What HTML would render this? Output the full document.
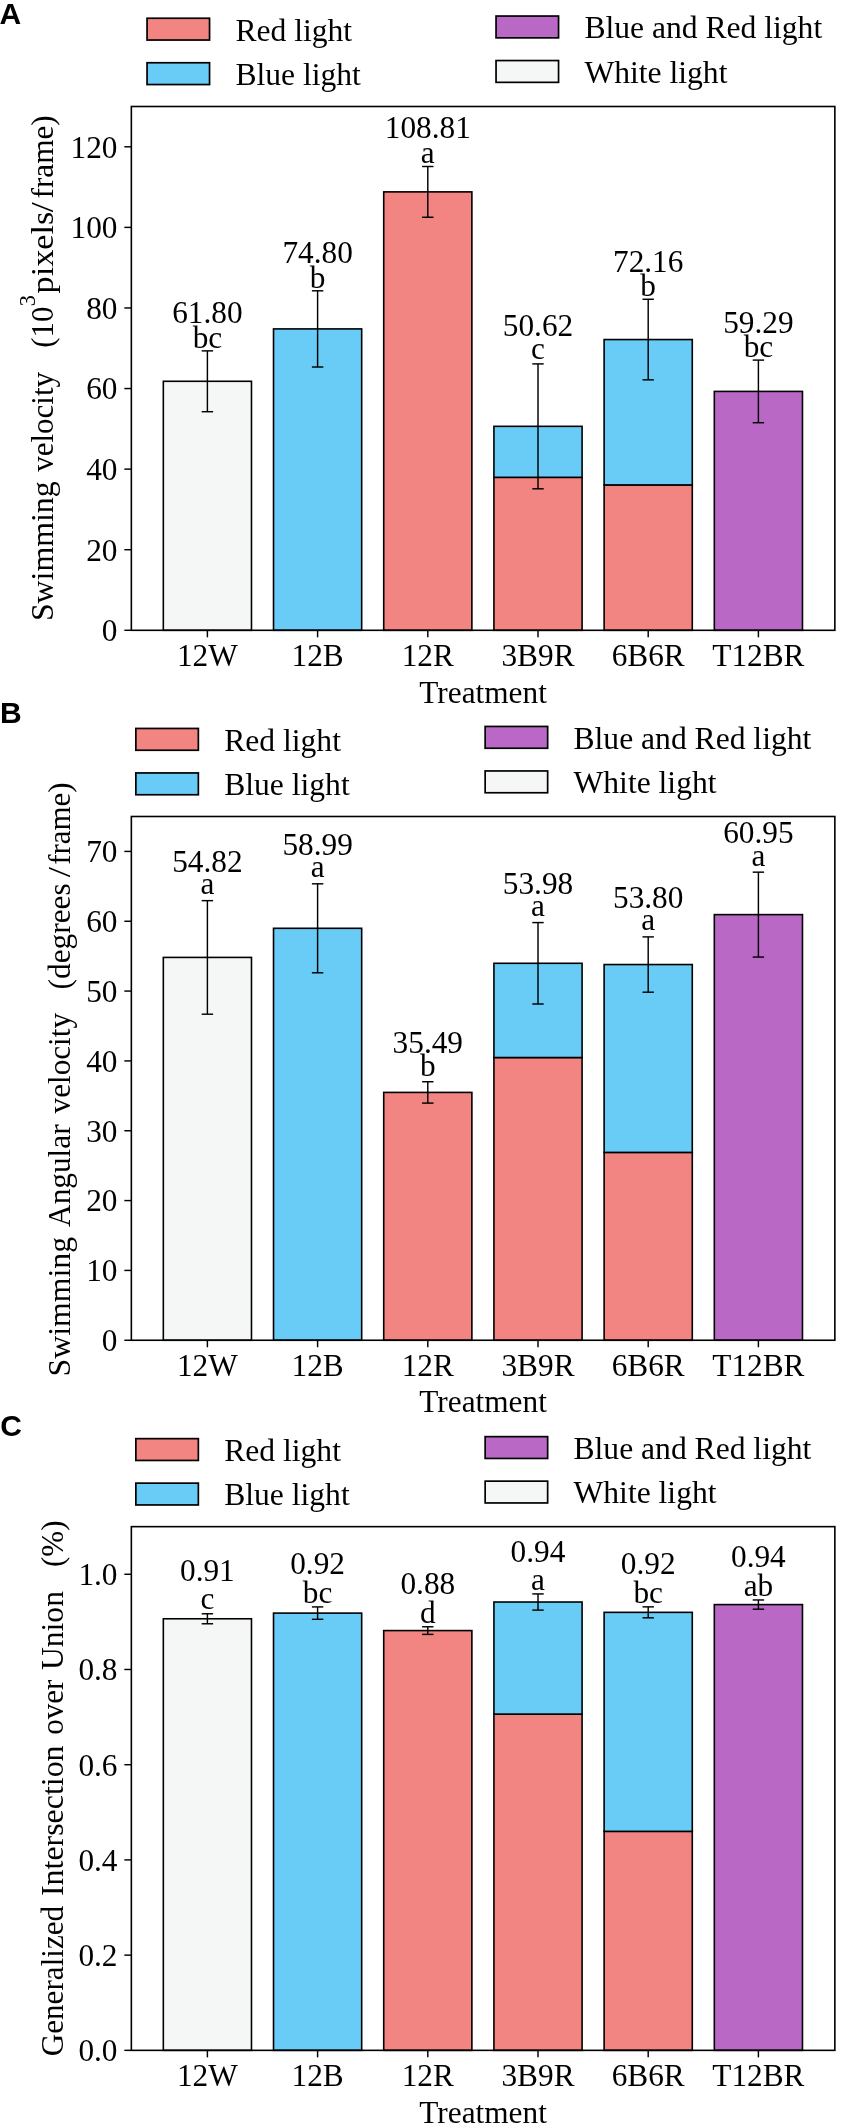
<!DOCTYPE html>
<html><head><meta charset="utf-8"><style>
html,body{margin:0;padding:0;background:#fff;}
svg{display:block;will-change:transform;}
text{font-family:"Liberation Serif",serif;fill:#000;}
text.tag{font-family:"Liberation Sans",sans-serif;font-weight:bold;}
</style></head><body>
<svg width="841" height="2128" viewBox="0 0 841 2128">
<rect width="841" height="2128" fill="#fff"/>
<rect x="163.32" y="381.29" width="88.16" height="249.01" fill="#F5F6F6" stroke="#000" stroke-width="1.6"/>
<rect x="273.52" y="328.91" width="88.16" height="301.39" fill="#69CCF7" stroke="#000" stroke-width="1.6"/>
<rect x="383.72" y="191.88" width="88.16" height="438.42" fill="#F28482" stroke="#000" stroke-width="1.6"/>
<rect x="493.92" y="477.33" width="88.16" height="152.97" fill="#F28482" stroke="#000" stroke-width="1.6"/>
<rect x="493.92" y="426.34" width="88.16" height="50.99" fill="#69CCF7" stroke="#000" stroke-width="1.6"/>
<rect x="604.12" y="484.93" width="88.16" height="145.37" fill="#F28482" stroke="#000" stroke-width="1.6"/>
<rect x="604.12" y="339.55" width="88.16" height="145.37" fill="#69CCF7" stroke="#000" stroke-width="1.6"/>
<rect x="714.32" y="391.41" width="88.16" height="238.89" fill="#B968C6" stroke="#000" stroke-width="1.6"/>
<line x1="207.40" y1="350.87" x2="207.40" y2="411.71" stroke="#000" stroke-width="1.45"/>
<line x1="201.70" y1="350.87" x2="213.10" y2="350.87" stroke="#000" stroke-width="1.45"/>
<line x1="201.70" y1="411.71" x2="213.10" y2="411.71" stroke="#000" stroke-width="1.45"/>
<line x1="317.60" y1="290.80" x2="317.60" y2="367.03" stroke="#000" stroke-width="1.45"/>
<line x1="311.90" y1="290.80" x2="323.30" y2="290.80" stroke="#000" stroke-width="1.45"/>
<line x1="311.90" y1="367.03" x2="323.30" y2="367.03" stroke="#000" stroke-width="1.45"/>
<line x1="427.80" y1="166.50" x2="427.80" y2="217.26" stroke="#000" stroke-width="1.45"/>
<line x1="422.10" y1="166.50" x2="433.50" y2="166.50" stroke="#000" stroke-width="1.45"/>
<line x1="422.10" y1="217.26" x2="433.50" y2="217.26" stroke="#000" stroke-width="1.45"/>
<line x1="538.00" y1="363.89" x2="538.00" y2="488.79" stroke="#000" stroke-width="1.45"/>
<line x1="532.30" y1="363.89" x2="543.70" y2="363.89" stroke="#000" stroke-width="1.45"/>
<line x1="532.30" y1="488.79" x2="543.70" y2="488.79" stroke="#000" stroke-width="1.45"/>
<line x1="648.20" y1="299.26" x2="648.20" y2="379.84" stroke="#000" stroke-width="1.45"/>
<line x1="642.50" y1="299.26" x2="653.90" y2="299.26" stroke="#000" stroke-width="1.45"/>
<line x1="642.50" y1="379.84" x2="653.90" y2="379.84" stroke="#000" stroke-width="1.45"/>
<line x1="758.40" y1="360.10" x2="758.40" y2="422.71" stroke="#000" stroke-width="1.45"/>
<line x1="752.70" y1="360.10" x2="764.10" y2="360.10" stroke="#000" stroke-width="1.45"/>
<line x1="752.70" y1="422.71" x2="764.10" y2="422.71" stroke="#000" stroke-width="1.45"/>
<rect x="131.35" y="106.5" width="703.50" height="523.80" fill="none" stroke="#000" stroke-width="1.6"/>
<line x1="124.35" y1="630.30" x2="131.35" y2="630.30" stroke="#000" stroke-width="1.45"/>
<text x="117.50" y="641.10" font-size="31.3" text-anchor="end">0</text>
<line x1="124.35" y1="549.72" x2="131.35" y2="549.72" stroke="#000" stroke-width="1.45"/>
<text x="117.50" y="560.52" font-size="31.3" text-anchor="end">20</text>
<line x1="124.35" y1="469.13" x2="131.35" y2="469.13" stroke="#000" stroke-width="1.45"/>
<text x="117.50" y="479.93" font-size="31.3" text-anchor="end">40</text>
<line x1="124.35" y1="388.55" x2="131.35" y2="388.55" stroke="#000" stroke-width="1.45"/>
<text x="117.50" y="399.35" font-size="31.3" text-anchor="end">60</text>
<line x1="124.35" y1="307.96" x2="131.35" y2="307.96" stroke="#000" stroke-width="1.45"/>
<text x="117.50" y="318.76" font-size="31.3" text-anchor="end">80</text>
<line x1="124.35" y1="227.38" x2="131.35" y2="227.38" stroke="#000" stroke-width="1.45"/>
<text x="117.50" y="238.18" font-size="31.3" text-anchor="end">100</text>
<line x1="124.35" y1="146.79" x2="131.35" y2="146.79" stroke="#000" stroke-width="1.45"/>
<text x="117.50" y="157.59" font-size="31.3" text-anchor="end">120</text>
<line x1="207.40" y1="630.30" x2="207.40" y2="637.30" stroke="#000" stroke-width="1.45"/>
<text x="207.40" y="666.20" font-size="31.3" text-anchor="middle">12W</text>
<line x1="317.60" y1="630.30" x2="317.60" y2="637.30" stroke="#000" stroke-width="1.45"/>
<text x="317.60" y="666.20" font-size="31.3" text-anchor="middle">12B</text>
<line x1="427.80" y1="630.30" x2="427.80" y2="637.30" stroke="#000" stroke-width="1.45"/>
<text x="427.80" y="666.20" font-size="31.3" text-anchor="middle">12R</text>
<line x1="538.00" y1="630.30" x2="538.00" y2="637.30" stroke="#000" stroke-width="1.45"/>
<text x="538.00" y="666.20" font-size="31.3" text-anchor="middle">3B9R</text>
<line x1="648.20" y1="630.30" x2="648.20" y2="637.30" stroke="#000" stroke-width="1.45"/>
<text x="648.20" y="666.20" font-size="31.3" text-anchor="middle">6B6R</text>
<line x1="758.40" y1="630.30" x2="758.40" y2="637.30" stroke="#000" stroke-width="1.45"/>
<text x="758.40" y="666.20" font-size="31.3" text-anchor="middle">T12BR</text>
<text x="483.10" y="702.50" font-size="31.3" text-anchor="middle">Treatment</text>
<text x="207.40" y="322.60" font-size="31.3" text-anchor="middle">61.80</text>
<text x="207.40" y="347.80" font-size="31.3" text-anchor="middle">bc</text>
<text x="317.60" y="262.60" font-size="31.3" text-anchor="middle">74.80</text>
<text x="317.60" y="287.80" font-size="31.3" text-anchor="middle">b</text>
<text x="427.80" y="138.30" font-size="31.3" text-anchor="middle">108.81</text>
<text x="427.80" y="162.80" font-size="31.3" text-anchor="middle">a</text>
<text x="538.00" y="335.50" font-size="31.3" text-anchor="middle">50.62</text>
<text x="538.00" y="359.20" font-size="31.3" text-anchor="middle">c</text>
<text x="648.20" y="271.50" font-size="31.3" text-anchor="middle">72.16</text>
<text x="648.20" y="295.60" font-size="31.3" text-anchor="middle">b</text>
<text x="758.40" y="332.50" font-size="31.3" text-anchor="middle">59.29</text>
<text x="758.40" y="356.60" font-size="31.3" text-anchor="middle">bc</text>
<rect x="147.05" y="18.25" width="62.50" height="21.80" fill="#F28482" stroke="#000" stroke-width="1.7"/>
<text x="235.40" y="40.60" font-size="31.6" text-anchor="start">Red light</text>
<rect x="147.05" y="62.75" width="62.50" height="21.80" fill="#69CCF7" stroke="#000" stroke-width="1.7"/>
<text x="235.40" y="84.60" font-size="31.6" text-anchor="start">Blue light</text>
<rect x="496.05" y="16.05" width="62.50" height="21.80" fill="#B968C6" stroke="#000" stroke-width="1.7"/>
<text x="584.40" y="38.30" font-size="31.6" text-anchor="start">Blue and Red light</text>
<rect x="496.05" y="60.55" width="62.50" height="21.80" fill="#F5F6F6" stroke="#000" stroke-width="1.7"/>
<text x="584.40" y="82.80" font-size="31.6" text-anchor="start">White light</text>
<text x="-0.5" y="23.60" class="tag" font-size="30">A</text>
<rect x="163.32" y="957.42" width="88.16" height="382.83" fill="#F5F6F6" stroke="#000" stroke-width="1.6"/>
<rect x="273.52" y="928.30" width="88.16" height="411.95" fill="#69CCF7" stroke="#000" stroke-width="1.6"/>
<rect x="383.72" y="1092.41" width="88.16" height="247.84" fill="#F28482" stroke="#000" stroke-width="1.6"/>
<rect x="493.92" y="1057.53" width="88.16" height="282.72" fill="#F28482" stroke="#000" stroke-width="1.6"/>
<rect x="493.92" y="963.29" width="88.16" height="94.24" fill="#69CCF7" stroke="#000" stroke-width="1.6"/>
<rect x="604.12" y="1152.40" width="88.16" height="187.85" fill="#F28482" stroke="#000" stroke-width="1.6"/>
<rect x="604.12" y="964.55" width="88.16" height="187.85" fill="#69CCF7" stroke="#000" stroke-width="1.6"/>
<rect x="714.32" y="914.62" width="88.16" height="425.63" fill="#B968C6" stroke="#000" stroke-width="1.6"/>
<line x1="207.40" y1="900.65" x2="207.40" y2="1014.20" stroke="#000" stroke-width="1.45"/>
<line x1="201.70" y1="900.65" x2="213.10" y2="900.65" stroke="#000" stroke-width="1.45"/>
<line x1="201.70" y1="1014.20" x2="213.10" y2="1014.20" stroke="#000" stroke-width="1.45"/>
<line x1="317.60" y1="883.82" x2="317.60" y2="972.79" stroke="#000" stroke-width="1.45"/>
<line x1="311.90" y1="883.82" x2="323.30" y2="883.82" stroke="#000" stroke-width="1.45"/>
<line x1="311.90" y1="972.79" x2="323.30" y2="972.79" stroke="#000" stroke-width="1.45"/>
<line x1="427.80" y1="1081.73" x2="427.80" y2="1103.10" stroke="#000" stroke-width="1.45"/>
<line x1="422.10" y1="1081.73" x2="433.50" y2="1081.73" stroke="#000" stroke-width="1.45"/>
<line x1="422.10" y1="1103.10" x2="433.50" y2="1103.10" stroke="#000" stroke-width="1.45"/>
<line x1="538.00" y1="922.58" x2="538.00" y2="1004.00" stroke="#000" stroke-width="1.45"/>
<line x1="532.30" y1="922.58" x2="543.70" y2="922.58" stroke="#000" stroke-width="1.45"/>
<line x1="532.30" y1="1004.00" x2="543.70" y2="1004.00" stroke="#000" stroke-width="1.45"/>
<line x1="648.20" y1="936.89" x2="648.20" y2="992.20" stroke="#000" stroke-width="1.45"/>
<line x1="642.50" y1="936.89" x2="653.90" y2="936.89" stroke="#000" stroke-width="1.45"/>
<line x1="642.50" y1="992.20" x2="653.90" y2="992.20" stroke="#000" stroke-width="1.45"/>
<line x1="758.40" y1="872.16" x2="758.40" y2="957.07" stroke="#000" stroke-width="1.45"/>
<line x1="752.70" y1="872.16" x2="764.10" y2="872.16" stroke="#000" stroke-width="1.45"/>
<line x1="752.70" y1="957.07" x2="764.10" y2="957.07" stroke="#000" stroke-width="1.45"/>
<rect x="131.35" y="816.5" width="703.50" height="523.75" fill="none" stroke="#000" stroke-width="1.6"/>
<line x1="124.35" y1="1340.25" x2="131.35" y2="1340.25" stroke="#000" stroke-width="1.45"/>
<text x="117.50" y="1351.05" font-size="31.3" text-anchor="end">0</text>
<line x1="124.35" y1="1270.42" x2="131.35" y2="1270.42" stroke="#000" stroke-width="1.45"/>
<text x="117.50" y="1281.22" font-size="31.3" text-anchor="end">10</text>
<line x1="124.35" y1="1200.58" x2="131.35" y2="1200.58" stroke="#000" stroke-width="1.45"/>
<text x="117.50" y="1211.38" font-size="31.3" text-anchor="end">20</text>
<line x1="124.35" y1="1130.75" x2="131.35" y2="1130.75" stroke="#000" stroke-width="1.45"/>
<text x="117.50" y="1141.55" font-size="31.3" text-anchor="end">30</text>
<line x1="124.35" y1="1060.92" x2="131.35" y2="1060.92" stroke="#000" stroke-width="1.45"/>
<text x="117.50" y="1071.72" font-size="31.3" text-anchor="end">40</text>
<line x1="124.35" y1="991.08" x2="131.35" y2="991.08" stroke="#000" stroke-width="1.45"/>
<text x="117.50" y="1001.88" font-size="31.3" text-anchor="end">50</text>
<line x1="124.35" y1="921.25" x2="131.35" y2="921.25" stroke="#000" stroke-width="1.45"/>
<text x="117.50" y="932.05" font-size="31.3" text-anchor="end">60</text>
<line x1="124.35" y1="851.42" x2="131.35" y2="851.42" stroke="#000" stroke-width="1.45"/>
<text x="117.50" y="862.22" font-size="31.3" text-anchor="end">70</text>
<line x1="207.40" y1="1340.25" x2="207.40" y2="1347.25" stroke="#000" stroke-width="1.45"/>
<text x="207.40" y="1376.15" font-size="31.3" text-anchor="middle">12W</text>
<line x1="317.60" y1="1340.25" x2="317.60" y2="1347.25" stroke="#000" stroke-width="1.45"/>
<text x="317.60" y="1376.15" font-size="31.3" text-anchor="middle">12B</text>
<line x1="427.80" y1="1340.25" x2="427.80" y2="1347.25" stroke="#000" stroke-width="1.45"/>
<text x="427.80" y="1376.15" font-size="31.3" text-anchor="middle">12R</text>
<line x1="538.00" y1="1340.25" x2="538.00" y2="1347.25" stroke="#000" stroke-width="1.45"/>
<text x="538.00" y="1376.15" font-size="31.3" text-anchor="middle">3B9R</text>
<line x1="648.20" y1="1340.25" x2="648.20" y2="1347.25" stroke="#000" stroke-width="1.45"/>
<text x="648.20" y="1376.15" font-size="31.3" text-anchor="middle">6B6R</text>
<line x1="758.40" y1="1340.25" x2="758.40" y2="1347.25" stroke="#000" stroke-width="1.45"/>
<text x="758.40" y="1376.15" font-size="31.3" text-anchor="middle">T12BR</text>
<text x="483.10" y="1412.45" font-size="31.3" text-anchor="middle">Treatment</text>
<text x="207.40" y="872.20" font-size="31.3" text-anchor="middle">54.82</text>
<text x="207.40" y="894.20" font-size="31.3" text-anchor="middle">a</text>
<text x="317.60" y="854.60" font-size="31.3" text-anchor="middle">58.99</text>
<text x="317.60" y="877.10" font-size="31.3" text-anchor="middle">a</text>
<text x="427.80" y="1052.60" font-size="31.3" text-anchor="middle">35.49</text>
<text x="427.80" y="1075.60" font-size="31.3" text-anchor="middle">b</text>
<text x="538.00" y="893.60" font-size="31.3" text-anchor="middle">53.98</text>
<text x="538.00" y="915.90" font-size="31.3" text-anchor="middle">a</text>
<text x="648.20" y="907.90" font-size="31.3" text-anchor="middle">53.80</text>
<text x="648.20" y="930.30" font-size="31.3" text-anchor="middle">a</text>
<text x="758.40" y="842.60" font-size="31.3" text-anchor="middle">60.95</text>
<text x="758.40" y="865.60" font-size="31.3" text-anchor="middle">a</text>
<rect x="135.85" y="728.45" width="62.50" height="21.80" fill="#F28482" stroke="#000" stroke-width="1.7"/>
<text x="224.20" y="750.80" font-size="31.6" text-anchor="start">Red light</text>
<rect x="135.85" y="772.95" width="62.50" height="21.80" fill="#69CCF7" stroke="#000" stroke-width="1.7"/>
<text x="224.20" y="794.80" font-size="31.6" text-anchor="start">Blue light</text>
<rect x="485.15" y="726.45" width="62.50" height="21.80" fill="#B968C6" stroke="#000" stroke-width="1.7"/>
<text x="573.50" y="748.70" font-size="31.6" text-anchor="start">Blue and Red light</text>
<rect x="485.15" y="770.95" width="62.50" height="21.80" fill="#F5F6F6" stroke="#000" stroke-width="1.7"/>
<text x="573.50" y="793.20" font-size="31.6" text-anchor="start">White light</text>
<text x="0.0" y="722.60" class="tag" font-size="30">B</text>
<rect x="163.32" y="1618.77" width="88.16" height="431.58" fill="#F5F6F6" stroke="#000" stroke-width="1.6"/>
<rect x="273.52" y="1613.11" width="88.16" height="437.24" fill="#69CCF7" stroke="#000" stroke-width="1.6"/>
<rect x="383.72" y="1630.58" width="88.16" height="419.77" fill="#F28482" stroke="#000" stroke-width="1.6"/>
<rect x="493.92" y="1714.10" width="88.16" height="336.25" fill="#F28482" stroke="#000" stroke-width="1.6"/>
<rect x="493.92" y="1602.02" width="88.16" height="112.08" fill="#69CCF7" stroke="#000" stroke-width="1.6"/>
<rect x="604.12" y="1831.35" width="88.16" height="219.00" fill="#F28482" stroke="#000" stroke-width="1.6"/>
<rect x="604.12" y="1612.35" width="88.16" height="219.00" fill="#69CCF7" stroke="#000" stroke-width="1.6"/>
<rect x="714.32" y="1604.59" width="88.16" height="445.76" fill="#B968C6" stroke="#000" stroke-width="1.6"/>
<line x1="207.40" y1="1613.77" x2="207.40" y2="1623.77" stroke="#000" stroke-width="1.45"/>
<line x1="201.70" y1="1613.77" x2="213.10" y2="1613.77" stroke="#000" stroke-width="1.45"/>
<line x1="201.70" y1="1623.77" x2="213.10" y2="1623.77" stroke="#000" stroke-width="1.45"/>
<line x1="317.60" y1="1606.92" x2="317.60" y2="1619.30" stroke="#000" stroke-width="1.45"/>
<line x1="311.90" y1="1606.92" x2="323.30" y2="1606.92" stroke="#000" stroke-width="1.45"/>
<line x1="311.90" y1="1619.30" x2="323.30" y2="1619.30" stroke="#000" stroke-width="1.45"/>
<line x1="427.80" y1="1626.77" x2="427.80" y2="1634.39" stroke="#000" stroke-width="1.45"/>
<line x1="422.10" y1="1626.77" x2="433.50" y2="1626.77" stroke="#000" stroke-width="1.45"/>
<line x1="422.10" y1="1634.39" x2="433.50" y2="1634.39" stroke="#000" stroke-width="1.45"/>
<line x1="538.00" y1="1593.92" x2="538.00" y2="1610.11" stroke="#000" stroke-width="1.45"/>
<line x1="532.30" y1="1593.92" x2="543.70" y2="1593.92" stroke="#000" stroke-width="1.45"/>
<line x1="532.30" y1="1610.11" x2="543.70" y2="1610.11" stroke="#000" stroke-width="1.45"/>
<line x1="648.20" y1="1606.87" x2="648.20" y2="1617.82" stroke="#000" stroke-width="1.45"/>
<line x1="642.50" y1="1606.87" x2="653.90" y2="1606.87" stroke="#000" stroke-width="1.45"/>
<line x1="642.50" y1="1617.82" x2="653.90" y2="1617.82" stroke="#000" stroke-width="1.45"/>
<line x1="758.40" y1="1599.97" x2="758.40" y2="1609.20" stroke="#000" stroke-width="1.45"/>
<line x1="752.70" y1="1599.97" x2="764.10" y2="1599.97" stroke="#000" stroke-width="1.45"/>
<line x1="752.70" y1="1609.20" x2="764.10" y2="1609.20" stroke="#000" stroke-width="1.45"/>
<rect x="131.35" y="1526.65" width="703.50" height="523.70" fill="none" stroke="#000" stroke-width="1.6"/>
<line x1="124.35" y1="2050.35" x2="131.35" y2="2050.35" stroke="#000" stroke-width="1.45"/>
<text x="117.50" y="2061.15" font-size="31.3" text-anchor="end">0.0</text>
<line x1="124.35" y1="1955.13" x2="131.35" y2="1955.13" stroke="#000" stroke-width="1.45"/>
<text x="117.50" y="1965.93" font-size="31.3" text-anchor="end">0.2</text>
<line x1="124.35" y1="1859.91" x2="131.35" y2="1859.91" stroke="#000" stroke-width="1.45"/>
<text x="117.50" y="1870.71" font-size="31.3" text-anchor="end">0.4</text>
<line x1="124.35" y1="1764.70" x2="131.35" y2="1764.70" stroke="#000" stroke-width="1.45"/>
<text x="117.50" y="1775.50" font-size="31.3" text-anchor="end">0.6</text>
<line x1="124.35" y1="1669.48" x2="131.35" y2="1669.48" stroke="#000" stroke-width="1.45"/>
<text x="117.50" y="1680.28" font-size="31.3" text-anchor="end">0.8</text>
<line x1="124.35" y1="1574.26" x2="131.35" y2="1574.26" stroke="#000" stroke-width="1.45"/>
<text x="117.50" y="1585.06" font-size="31.3" text-anchor="end">1.0</text>
<line x1="207.40" y1="2050.35" x2="207.40" y2="2057.35" stroke="#000" stroke-width="1.45"/>
<text x="207.40" y="2086.25" font-size="31.3" text-anchor="middle">12W</text>
<line x1="317.60" y1="2050.35" x2="317.60" y2="2057.35" stroke="#000" stroke-width="1.45"/>
<text x="317.60" y="2086.25" font-size="31.3" text-anchor="middle">12B</text>
<line x1="427.80" y1="2050.35" x2="427.80" y2="2057.35" stroke="#000" stroke-width="1.45"/>
<text x="427.80" y="2086.25" font-size="31.3" text-anchor="middle">12R</text>
<line x1="538.00" y1="2050.35" x2="538.00" y2="2057.35" stroke="#000" stroke-width="1.45"/>
<text x="538.00" y="2086.25" font-size="31.3" text-anchor="middle">3B9R</text>
<line x1="648.20" y1="2050.35" x2="648.20" y2="2057.35" stroke="#000" stroke-width="1.45"/>
<text x="648.20" y="2086.25" font-size="31.3" text-anchor="middle">6B6R</text>
<line x1="758.40" y1="2050.35" x2="758.40" y2="2057.35" stroke="#000" stroke-width="1.45"/>
<text x="758.40" y="2086.25" font-size="31.3" text-anchor="middle">T12BR</text>
<text x="483.10" y="2122.55" font-size="31.3" text-anchor="middle">Treatment</text>
<text x="207.40" y="1581.20" font-size="31.3" text-anchor="middle">0.91</text>
<text x="207.40" y="1609.10" font-size="31.3" text-anchor="middle">c</text>
<text x="317.60" y="1574.00" font-size="31.3" text-anchor="middle">0.92</text>
<text x="317.60" y="1602.70" font-size="31.3" text-anchor="middle">bc</text>
<text x="427.80" y="1594.30" font-size="31.3" text-anchor="middle">0.88</text>
<text x="427.80" y="1623.00" font-size="31.3" text-anchor="middle">d</text>
<text x="538.00" y="1561.50" font-size="31.3" text-anchor="middle">0.94</text>
<text x="538.00" y="1589.90" font-size="31.3" text-anchor="middle">a</text>
<text x="648.20" y="1573.90" font-size="31.3" text-anchor="middle">0.92</text>
<text x="648.20" y="1602.50" font-size="31.3" text-anchor="middle">bc</text>
<text x="758.40" y="1567.20" font-size="31.3" text-anchor="middle">0.94</text>
<text x="758.40" y="1595.60" font-size="31.3" text-anchor="middle">ab</text>
<rect x="135.85" y="1438.65" width="62.50" height="21.80" fill="#F28482" stroke="#000" stroke-width="1.7"/>
<text x="224.20" y="1461.00" font-size="31.6" text-anchor="start">Red light</text>
<rect x="135.85" y="1483.15" width="62.50" height="21.80" fill="#69CCF7" stroke="#000" stroke-width="1.7"/>
<text x="224.20" y="1505.00" font-size="31.6" text-anchor="start">Blue light</text>
<rect x="485.15" y="1436.65" width="62.50" height="21.80" fill="#B968C6" stroke="#000" stroke-width="1.7"/>
<text x="573.50" y="1458.90" font-size="31.6" text-anchor="start">Blue and Red light</text>
<rect x="485.15" y="1481.15" width="62.50" height="21.80" fill="#F5F6F6" stroke="#000" stroke-width="1.7"/>
<text x="573.50" y="1503.40" font-size="31.6" text-anchor="start">White light</text>
<text x="0.2" y="1436.30" class="tag" font-size="30">C</text>
<text transform="translate(53.30,621.09) rotate(-90)" font-size="32.0" textLength="139.76" lengthAdjust="spacingAndGlyphs">Swimming</text>
<text transform="translate(53.30,471.80) rotate(-90)" font-size="32.0" textLength="99.88" lengthAdjust="spacingAndGlyphs">velocity</text>
<text transform="translate(53.30,347.67) rotate(-90)" font-size="32.0" textLength="41.20" lengthAdjust="spacingAndGlyphs">(10</text>
<text transform="translate(34.5,306.2) rotate(-90)" font-size="22.4">3</text>
<text transform="translate(53.30,293.47) rotate(-90)" font-size="32.0" textLength="81.91" lengthAdjust="spacingAndGlyphs">pixels</text>
<text transform="translate(53.30,212.20) rotate(-90)" font-size="32.0" textLength="9.98" lengthAdjust="spacingAndGlyphs">/</text>
<text transform="translate(53.30,198.48) rotate(-90)" font-size="32.0" textLength="83.22" lengthAdjust="spacingAndGlyphs">frame)</text>
<text transform="translate(70.10,1376.49) rotate(-90)" font-size="32.0" textLength="139.55" lengthAdjust="spacingAndGlyphs">Swimming</text>
<text transform="translate(70.10,1226.90) rotate(-90)" font-size="32.0" textLength="102.46" lengthAdjust="spacingAndGlyphs">Angular</text>
<text transform="translate(70.10,1113.40) rotate(-90)" font-size="32.0" textLength="100.38" lengthAdjust="spacingAndGlyphs">velocity</text>
<text transform="translate(70.10,989.48) rotate(-90)" font-size="32.0" textLength="106.23" lengthAdjust="spacingAndGlyphs">(degrees</text>
<text transform="translate(70.10,877.30) rotate(-90)" font-size="32.0" textLength="10.17" lengthAdjust="spacingAndGlyphs">/</text>
<text transform="translate(70.10,864.87) rotate(-90)" font-size="32.0" textLength="82.29" lengthAdjust="spacingAndGlyphs">frame)</text>
<text transform="translate(63.00,2056.27) rotate(-90)" font-size="32.0" textLength="150.42" lengthAdjust="spacingAndGlyphs">Generalized</text>
<text transform="translate(63.00,1896.00) rotate(-90)" font-size="32.0" textLength="150.54" lengthAdjust="spacingAndGlyphs">Intersection</text>
<text transform="translate(63.00,1734.77) rotate(-90)" font-size="32.0" textLength="55.24" lengthAdjust="spacingAndGlyphs">over</text>
<text transform="translate(63.00,1670.09) rotate(-90)" font-size="32.0" textLength="79.08" lengthAdjust="spacingAndGlyphs">Union</text>
<text transform="translate(63.00,1566.97) rotate(-90)" font-size="32.0" textLength="46.51" lengthAdjust="spacingAndGlyphs">(%)</text>
</svg>
</body></html>
